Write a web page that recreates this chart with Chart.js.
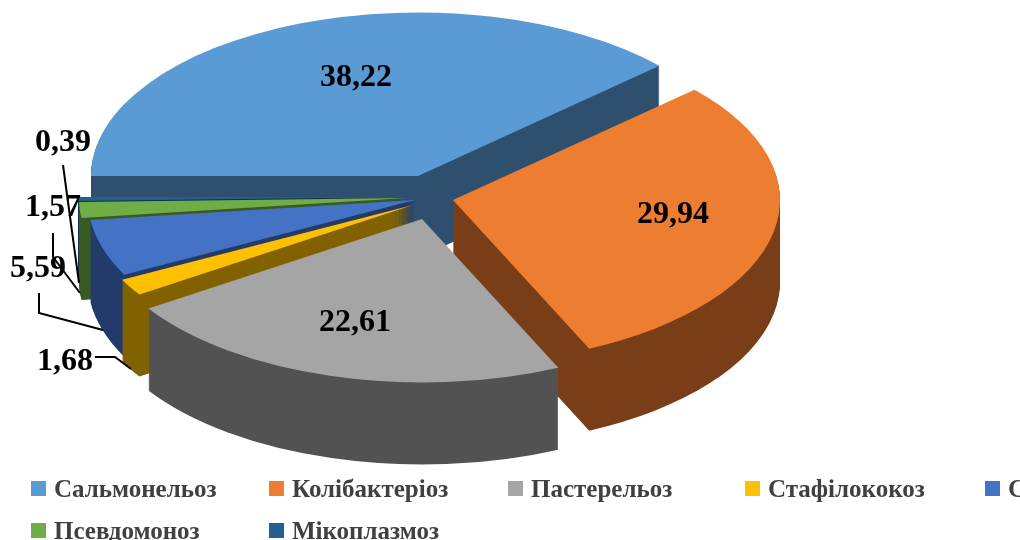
<!DOCTYPE html>
<html>
<head>
<meta charset="utf-8">
<script src="https://cdn.jsdelivr.net/npm/chart.js@4"></script>
<style>
  html, body { margin: 0; padding: 0; background: #fff; overflow: hidden; }
  #wrap { width: 1020px; height: 540px; }
</style>
</head>
<body>
<div id="wrap"><canvas id="pieChart" width="1020" height="540"></canvas></div>
<script>
const categories = ['Сальмонельоз', 'Колібактеріоз', 'Пастерельоз', 'Стафілококоз', 'Стрептококоз', 'Псевдомоноз', 'Мікоплазмоз'];
const shares = [38.22, 29.94, 22.61, 1.68, 5.59, 1.57, 0.39];
const shareLabels = ['38,22', '29,94', '22,61', '1,68', '5,59', '1,57', '0,39'];

const topColors = ['#5b9bd5', '#ed7d31', '#a5a5a5', '#ffc000', '#4472c4', '#70ad47', '#255e91'];
const sideColors = ['#2e4f6e', '#793e18', '#525252', '#826200', '#223b6a', '#3a5a24', '#132f4a'];

// fake 3D settings
const tilt = 0.5;
const depth = 82;
const drawOrder = [0, 6, 5, 4, 3, 1, 2];
// explosion of each slice, px on screen
const sliceShift = [[-7, -21], [28, 3], [-3, 22], [-12, 8], [-10, 3], [-19, 1], [-20, 0]];

const labelPos = [[356, 78], [673, 215], [355, 323], [65, 362], [38, 269], [53, 208], [63, 143]];
const leaders = [
  [[95, 357], [115, 357], [131, 369]],
  [[39, 293], [39, 313], [103, 330]],
  [[53, 233], [53, 257], [80, 293]],
  [[63, 165], [79, 283]]
];

const legendCols = [31, 269, 508, 745, 985];
const legendRows = [481, 523];

const pie3d = {
  id: 'pie3d',
  beforeDatasetsDraw(chart) {
    const ctx = chart.ctx;
    const arcs = chart.getDatasetMeta(0).data;
    // each slice goes on its own layer; the stacked sides get repainted flat
    // afterwards because the repeated arcs leave streaks
    const layer = document.createElement('canvas');
    layer.width = chart.width;
    layer.height = chart.height;
    const lctx = layer.getContext('2d');
    drawOrder.forEach(i => {
      const arc = arcs[i];
      const side = Object.create(arc);
      side.options = { ...arc.options, backgroundColor: sideColors[i], borderWidth: 0 };
      lctx.clearRect(0, 0, layer.width, layer.height);
      lctx.save();
      lctx.translate(arc.x + sliceShift[i][0], arc.y + sliceShift[i][1]);
      lctx.scale(1, tilt);
      lctx.translate(-arc.x, -arc.y);
      for (let d = depth; d > 0; d--) {
        lctx.save();
        lctx.translate(0, d / tilt);
        side.draw(lctx);
        lctx.restore();
      }
      lctx.save();
      lctx.setTransform(1, 0, 0, 1, 0, 0);
      lctx.globalCompositeOperation = 'source-atop';
      lctx.fillStyle = sideColors[i];
      lctx.fillRect(0, 0, layer.width, layer.height);
      lctx.restore();
      arc.draw(lctx);
      lctx.restore();
      ctx.drawImage(layer, 0, 0);
    });
    return false;
  },
  afterDraw(chart) {
    const ctx = chart.ctx;
    ctx.save();

    // leader lines
    ctx.strokeStyle = '#000';
    ctx.lineWidth = 2;
    leaders.forEach(path => {
      ctx.beginPath();
      path.forEach((p, n) => n ? ctx.lineTo(p[0], p[1]) : ctx.moveTo(p[0], p[1]));
      ctx.stroke();
    });

    // value labels
    ctx.fillStyle = '#000';
    ctx.font = 'bold 32px "Liberation Serif"';
    ctx.textAlign = 'center';
    ctx.textBaseline = 'middle';
    shareLabels.forEach((t, i) => ctx.fillText(t, labelPos[i][0], labelPos[i][1]));

    // legend, fixed columns and cut by the right edge like the original
    ctx.font = 'bold 25px "Liberation Serif"';
    ctx.textAlign = 'left';
    ctx.textBaseline = 'alphabetic';
    categories.forEach((name, i) => {
      const x = legendCols[i % legendCols.length];
      const y = legendRows[Math.floor(i / legendCols.length)];
      ctx.fillStyle = topColors[i];
      ctx.fillRect(x, y, 15, 15);
      ctx.fillStyle = '#404040';
      ctx.fillText(name, x + 23, y + 16);
    });
    ctx.restore();
  }
};

new Chart(document.getElementById('pieChart'), {
  type: 'pie',
  data: {
    labels: categories,
    datasets: [{
      data: shares,
      backgroundColor: topColors,
      borderWidth: 0
    }]
  },
  options: {
    responsive: false,
    animation: false,
    rotation: 270,
    radius: 327,
    layout: { padding: { right: 170, bottom: 146 } },
    plugins: { legend: { display: false }, tooltip: { enabled: false } }
  },
  plugins: [pie3d]
});
</script>
</body>
</html>
